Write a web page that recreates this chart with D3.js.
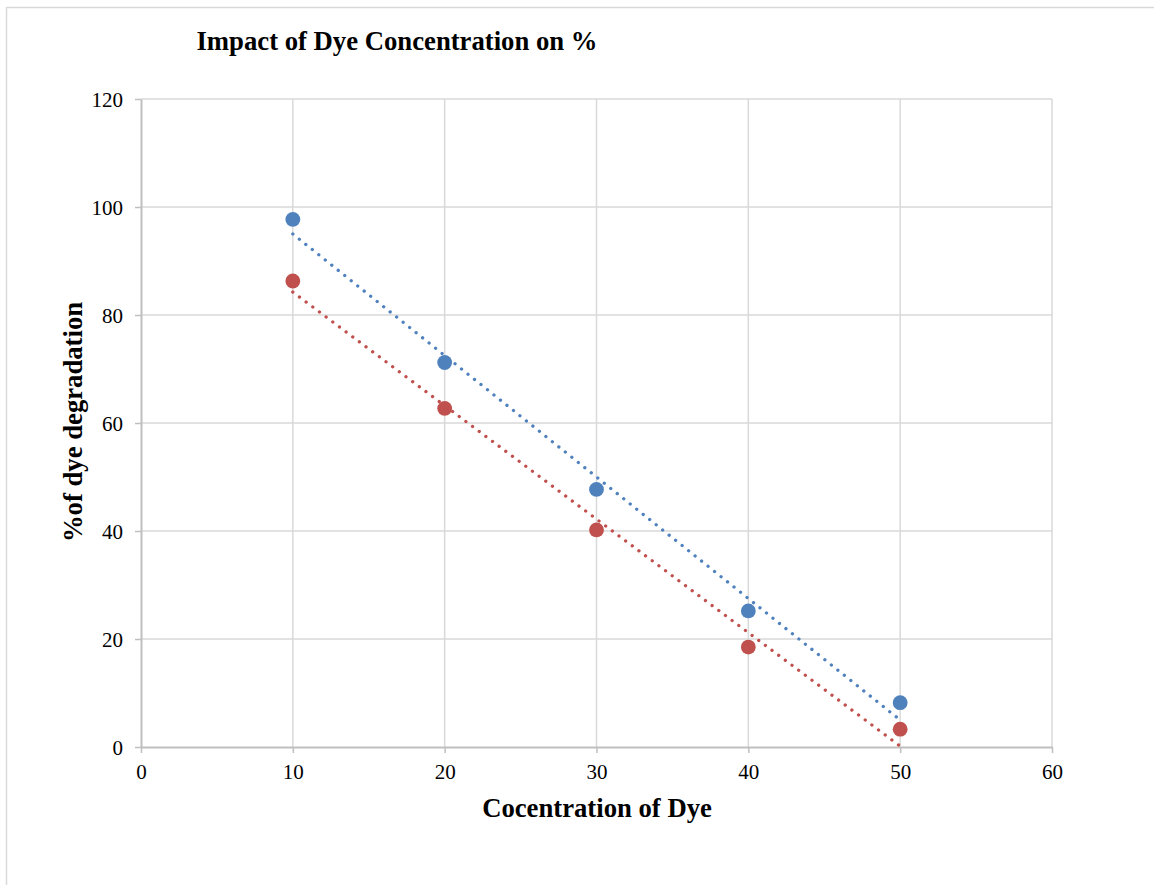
<!DOCTYPE html>
<html>
<head>
<meta charset="utf-8">
<script src="https://cdn.jsdelivr.net/npm/d3@7"></script>
<style>
  html, body { margin: 0; padding: 0; background: #fff; }
  svg { display: block; }
  text { font-family: "Liberation Serif", "Times New Roman", serif; fill: #000; }
</style>
</head>
<body>
<svg id="chart" width="1154" height="885"></svg>
<script>
const concentrations = [10, 20, 30, 40, 50];
const seriesBlue = [97.7, 71.2, 47.7, 25.2, 8.2];
const seriesRed = [86.3, 62.7, 40.2, 18.5, 3.3];
const xTicks = [0, 10, 20, 30, 40, 50, 60];
const yTicks = [0, 20, 40, 60, 80, 100, 120];
const titleText = "Impact of Dye Concentration on %";
const xTitle = "Cocentration of Dye";
const yTitle = "%of dye degradation";

const svg = d3.select("#chart");
const plot = { left: 141, right: 1052, top: 99, bottom: 747 };

// outer chart border
svg.append("rect")
  .attr("x", 6.5).attr("y", 7.5)
  .attr("width", 1160).attr("height", 900)
  .attr("fill", "#fff").attr("stroke", "#d9d9d9").attr("stroke-width", 1.5);

const x = d3.scaleLinear().domain([0, 60]).range([plot.left, plot.right]);
const y = d3.scaleLinear().domain([0, 120]).range([plot.bottom, plot.top]);

// gridlines
const grid = svg.append("g");
grid.selectAll("line.v").data(xTicks.filter(d => d > 0)).join("line")
  .attr("x1", d => x(d)).attr("x2", d => x(d))
  .attr("y1", plot.top).attr("y2", plot.bottom)
  .attr("stroke", "#d9d9d9").attr("stroke-width", 1.5);
grid.selectAll("line.h").data(yTicks.filter(d => d > 0)).join("line")
  .attr("x1", plot.left).attr("x2", plot.right)
  .attr("y1", d => y(d)).attr("y2", d => y(d))
  .attr("stroke", "#d9d9d9").attr("stroke-width", 1.5);

// axes
const xAxis = svg.append("g")
  .attr("transform", `translate(0,${plot.bottom})`)
  .call(d3.axisBottom(x).tickValues(xTicks).tickSize(6).tickPadding(11).tickSizeOuter(0));
const yAxis = svg.append("g")
  .attr("transform", `translate(${plot.left},0)`)
  .call(d3.axisLeft(y).tickValues(yTicks).tickSize(6).tickPadding(12).tickSizeOuter(0));
[xAxis, yAxis].forEach(a => {
  a.select(".domain").attr("stroke", "#bfbfbf").attr("stroke-width", 2);
  a.selectAll(".tick line").attr("stroke", "#bfbfbf").attr("stroke-width", 1.5);
  a.selectAll(".tick text")
    .style("font-family", '"Liberation Serif", "Times New Roman", serif')
    .style("font-size", "21px").attr("fill", "#000");
});
yAxis.selectAll(".tick text").attr("dy", "0.34em");

// trendlines (least squares)
function fit(xs, ys) {
  const n = xs.length;
  const mx = d3.mean(xs), my = d3.mean(ys);
  let sxy = 0, sxx = 0;
  for (let i = 0; i < n; i++) { sxy += (xs[i] - mx) * (ys[i] - my); sxx += (xs[i] - mx) ** 2; }
  const b = sxy / sxx, a = my - b * mx;
  return v => a + b * v;
}
const series = [
  { values: seriesBlue, color: "#4f81bd" },
  { values: seriesRed, color: "#c0504d" }
];
const xExt = d3.extent(concentrations);
series.forEach(s => {
  const f = fit(concentrations, s.values);
  svg.append("line")
    .attr("x1", x(xExt[0])).attr("y1", y(f(xExt[0])))
    .attr("x2", x(xExt[1])).attr("y2", y(f(xExt[1])))
    .attr("stroke", s.color).attr("stroke-width", 3.3)
    .attr("stroke-linecap", "round").attr("stroke-dasharray", "0.01 8.3");
});
series.forEach(s => {
  svg.append("g").selectAll("circle")
    .data(concentrations.map((c, i) => [c, s.values[i]]))
    .join("circle")
    .attr("cx", d => x(d[0])).attr("cy", d => y(d[1]))
    .attr("r", 7.4).attr("fill", s.color);
});

// titles
svg.append("text").attr("x", 397).attr("y", 50)
  .attr("text-anchor", "middle").style("font-size", "26.7px").style("font-weight", "bold")
  .text(titleText);
svg.append("text").attr("x", 597).attr("y", 817)
  .attr("text-anchor", "middle").style("font-size", "26.7px").style("font-weight", "bold")
  .text(xTitle);
svg.append("text")
  .attr("transform", `translate(82,422) rotate(-90)`)
  .attr("text-anchor", "middle").style("font-size", "26.7px").style("font-weight", "bold")
  .text(yTitle);
</script>
</body>
</html>
